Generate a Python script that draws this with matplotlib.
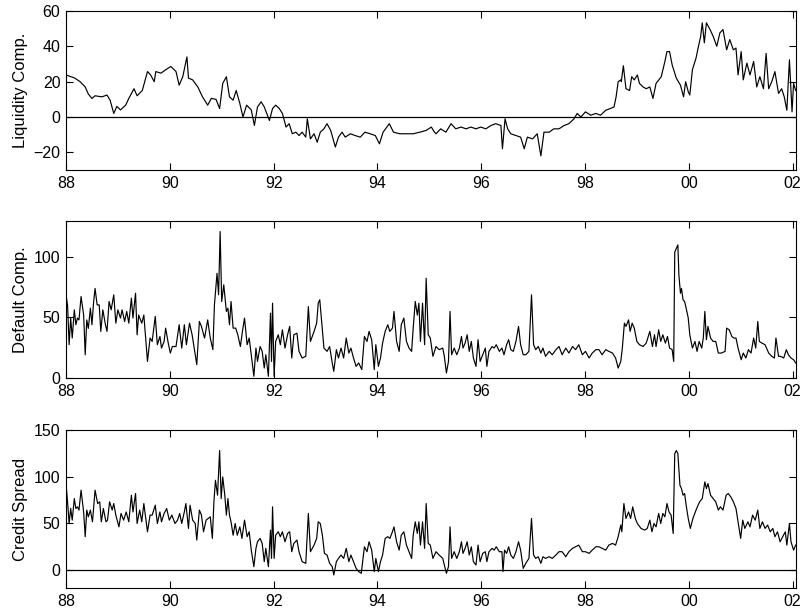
import matplotlib

matplotlib.use("Agg")
import matplotlib.pyplot as plt  # noqa: E402
import numpy as np  # noqa: E402

plt.rcParams["font.family"] = ["Liberation Sans", "DejaVu Sans"]

# (decimal year, value)
liquidity = [
    (88.00, 23.8), (88.17, 22), (88.27, 20), (88.37, 17), (88.43, 13), (88.50, 10.5),
    (88.56, 12), (88.69, 11.4), (88.79, 12.4), (88.85, 9.5), (88.92, 2), (88.98, 6),
    (89.05, 4), (89.15, 6.7), (89.21, 10.5), (89.31, 16), (89.37, 12), (89.47, 15),
    (89.57, 25.7), (89.63, 23.8), (89.70, 20), (89.73, 25.7), (89.83, 24.8), (89.92, 26.7),
    (90.02, 28.6), (90.12, 25.7), (90.18, 18), (90.25, 22.8), (90.33, 34), (90.36, 22),
    (90.44, 21), (90.54, 17), (90.63, 11.4), (90.73, 6.7), (90.80, 10.5), (90.89, 10),
    (90.96, 4.8), (91.02, 19), (91.09, 22.8), (91.15, 11.4), (91.22, 9.5), (91.28, 15),
    (91.35, 7.6), (91.41, 0), (91.48, 6.7), (91.57, 4),
    (91.63, -4.8), (91.69, 5.7), (91.76, 8.6), (91.82, 5.7), (91.92, -2), (91.98, 4.8),
    (92.04, 6.7), (92.11, 4.8), (92.17, 2), (92.24, -5.7), (92.30, -3.8), (92.36, -9.5),
    (92.43, -8.6), (92.49, -10.5), (92.55, -8.6), (92.62, -11.4), (92.65, -1), (92.71, -12.4),
    (92.78, -9.5), (92.84, -14.3), (92.90, -8.6), (92.97, -6.7), (93.03, -3.8), (93.10, -7.6),
    (93.19, -17), (93.25, -11.4), (93.32, -8.6), (93.38, -11.4), (93.48, -9.5), (93.57, -10.5),
    (93.67, -11.4), (93.76, -8.6), (93.86, -9.5), (93.96, -10.5), (94.04, -15.2), (94.11, -8.6),
    (94.23, -3.8), (94.31, -8.6), (94.43, -9.5), (94.56, -9.5), (94.69, -9.5), (94.82, -8.6),
    (94.94, -7.6), (95.04, -5.7), (95.10, -8.6),
    (95.13, -9.5), (95.22, -6.7), (95.32, -8.6), (95.42, -3.8), (95.51, -6.7), (95.61, -5.7),
    (95.71, -6.7), (95.80, -5.7), (95.90, -6.7), (95.99, -5.7), (96.09, -6.7), (96.19, -4.8),
    (96.28, -3.8), (96.38, -4.8), (96.41, -18), (96.46, -1), (96.51, -6.7), (96.57, -9.5),
    (96.67, -10.5), (96.76, -11.4), (96.83, -18), (96.89, -11.4), (96.99, -12.4), (97.08, -9.5),
    (97.15, -22), (97.21, -8.6), (97.31, -8.6), (97.40, -6.7), (97.50, -6.7), (97.60, -4.8),
    (97.69, -3.8), (97.79, -1), (97.85, 2), (97.92, 0), (98.01, 2.9), (98.11, 1),
    (98.21, 2), (98.30, 1), (98.40, 3.8), (98.49, 4.8), (98.56, 5.7), (98.60, 11.4),
    (98.64, 20), (98.69, 21),
    (98.70, 20), (98.74, 29), (98.79, 16), (98.86, 15), (98.90, 22.8), (98.95, 21),
    (99.01, 23.8), (99.05, 19), (99.12, 17), (99.18, 16), (99.25, 17), (99.31, 10.5),
    (99.37, 19), (99.47, 22.8), (99.54, 31.4), (99.58, 37), (99.63, 37), (99.68, 29.5),
    (99.76, 22), (99.84, 18), (99.90, 11.4), (99.94, 20), (99.99, 14.3), (100.02, 12.4),
    (100.07, 26.7), (100.14, 33.3), (100.18, 39), (100.23, 45.7), (100.26, 53.3), (100.30, 42),
    (100.34, 53.3), (100.41, 49.5), (100.47, 45.7), (100.54, 40), (100.60, 47.6), (100.66, 49.5),
    (100.73, 38), (100.79, 43.8), (100.86, 38), (100.91, 39), (100.95, 23.8), (101.01, 37),
    (101.05, 21), (101.12, 30.5), (101.18, 23.8), (101.25, 31.4), (101.31, 17), (101.37, 22.8),
    (101.44, 16), (101.49, 36), (101.54, 16), (101.60, 20), (101.66, 25.7), (101.73, 13.3),
    (101.79, 16), (101.84, 11.4), (101.89, 3.8), (101.94, 32.4), (101.99, 2.9), (102.02, 19),
    (102.06, 15),
]

default = [
    (88.00, 68.7), (88.03, 60), (88.06, 27.5), (88.09, 49.5), (88.12, 33), (88.16, 56.3),
    (88.19, 44), (88.22, 49.5), (88.25, 48), (88.29, 67.3), (88.34, 52), (88.37, 19.2),
    (88.40, 48), (88.43, 41), (88.47, 57.7), (88.50, 44), (88.53, 61.8), (88.56, 74),
    (88.60, 60.4), (88.64, 60.4), (88.67, 38.5), (88.71, 56.3), (88.76, 44), (88.79, 38.5),
    (88.83, 63.2), (88.87, 56.3), (88.92, 68.7), (88.96, 45.3), (89.00, 56.3), (89.05, 49.5),
    (89.08, 56.3), (89.13, 46.7), (89.17, 55), (89.21, 45.3), (89.26, 66), (89.29, 49.5),
    (89.34, 70), (89.37, 35.7), (89.40, 52), (89.46, 45.3), (89.50, 52), (89.53, 35.7),
    (89.57, 13.7), (89.62, 33), (89.66, 30.2), (89.72, 50.8), (89.76, 27.5), (89.81, 34.3),
    (89.84, 24.7), (89.89, 30.2), (89.92, 41.2), (89.97, 28.8), (90.01, 20.6), (90.05, 26),
    (90.12, 26), (90.18, 44), (90.23, 24.7), (90.28, 44), (90.32, 27.5), (90.38, 45.3),
    (90.43, 35.7), (90.47, 24.7), (90.52, 11), (90.57, 46.7), (90.61, 42.6), (90.67, 33),
    (90.73, 48), (90.78, 33), (90.83, 23.4), (90.86, 60.4), (90.91, 86.5), (90.94, 68.7),
    (90.97, 121), (91.00, 63.2), (91.04, 77), (91.09, 55), (91.12, 57.7), (91.15, 44),
    (91.18, 63.2), (91.22, 41.2), (91.27, 41.2), (91.31, 35.7), (91.36, 26), (91.40, 38.5),
    (91.44, 49.5), (91.49, 27.5), (91.53, 33), (91.57, 19.2),
    (91.62, 1.4), (91.66, 24.7), (91.69, 13.7), (91.74, 26), (91.78, 22), (91.82, 8.2),
    (91.85, 19.2), (91.90, 1.4), (91.94, 53.6), (91.96, 13.7), (91.98, 61.8), (92.01, 1.4),
    (92.04, 30.2), (92.09, 35.7), (92.13, 27.5), (92.17, 39.8), (92.22, 24.7), (92.27, 35.7),
    (92.31, 42.6), (92.35, 16.5), (92.39, 35.7), (92.45, 37), (92.49, 22), (92.55, 16.5),
    (92.62, 17.9), (92.67, 59), (92.71, 30.2), (92.78, 38.5), (92.83, 45.3), (92.86, 61.8),
    (92.89, 64.6), (92.92, 49.5), (92.97, 24.7), (93.03, 22), (93.08, 26), (93.13, 12.4),
    (93.16, 5.5), (93.21, 23.4), (93.25, 16.5), (93.30, 24.7), (93.35, 16.5), (93.40, 33),
    (93.45, 20.6), (93.49, 24.7), (93.54, 16.5), (93.59, 9.6), (93.64, 12.4), (93.70, 6.9),
    (93.75, 34.3), (93.80, 30.2), (93.84, 38.5), (93.89, 31.6), (93.94, 6.9), (93.97, 27.5),
    (94.02, 9.6), (94.06, 16.5), (94.10, 28.8), (94.15, 38.5), (94.20, 44), (94.24, 38.5),
    (94.29, 41.2), (94.32, 55), (94.37, 30.2), (94.42, 22), (94.46, 44), (94.51, 49.5),
    (94.56, 30.2), (94.61, 24.7), (94.66, 22), (94.69, 41.2), (94.73, 63.2), (94.77, 52),
    (94.80, 61.8), (94.83, 30.2), (94.87, 61.8), (94.91, 27.5), (94.94, 82.4), (94.98, 35.7),
    (95.02, 33), (95.07, 17.9),
    (95.13, 26), (95.19, 23.4), (95.26, 24.7), (95.29, 17.9), (95.33, 4.1), (95.37, 13.7),
    (95.40, 55), (95.43, 19.2), (95.48, 24.7), (95.53, 19.2), (95.58, 24.7), (95.62, 34.3),
    (95.65, 24.7), (95.69, 28.8), (95.73, 35.7), (95.77, 22), (95.81, 30.2), (95.85, 16.5),
    (95.90, 9.6), (95.94, 31.6), (95.98, 13.7), (96.03, 19.2), (96.08, 24.7), (96.11, 9.6),
    (96.15, 22), (96.21, 26), (96.25, 24.7), (96.29, 27.5), (96.35, 22), (96.40, 24.7),
    (96.44, 19.2), (96.49, 27.5), (96.53, 31.6), (96.57, 23.4), (96.62, 22), (96.67, 30.2),
    (96.72, 42.6), (96.76, 27.5), (96.81, 19.2), (96.86, 19.2), (96.92, 22), (96.97, 68.7),
    (97.01, 27.5), (97.05, 23.4), (97.10, 26), (97.15, 20.6), (97.19, 24.7), (97.24, 17.9),
    (97.31, 22), (97.37, 19.2), (97.44, 23.4), (97.50, 26), (97.56, 19.2), (97.63, 24.7),
    (97.69, 20.6), (97.76, 26), (97.82, 23.4), (97.88, 27.5), (97.95, 19.2), (98.01, 22),
    (98.08, 16.5), (98.14, 20.6), (98.21, 23.4), (98.27, 23.4), (98.33, 19.2), (98.40, 23.4),
    (98.46, 22), (98.53, 20.6), (98.59, 16.5), (98.64, 8.2), (98.69, 13.7),
    (98.72, 24.7), (98.76, 45.3), (98.79, 42.6), (98.84, 48), (98.87, 38.5), (98.91, 45.3),
    (98.95, 41.2), (99.00, 30.2), (99.05, 27.5), (99.12, 26), (99.18, 28.8), (99.25, 38.5),
    (99.30, 26), (99.34, 35.7), (99.37, 26), (99.42, 39.8), (99.46, 30.2), (99.50, 35.7),
    (99.55, 28.8), (99.59, 34.3), (99.63, 24.7), (99.68, 23.4), (99.71, 13.7), (99.73, 104),
    (99.76, 107), (99.79, 110), (99.81, 85), (99.84, 70), (99.86, 74), (99.89, 64.6),
    (99.92, 63.2), (99.95, 57.7), (99.99, 49.5), (100.02, 35.7), (100.07, 24.7), (100.12, 30.2),
    (100.16, 22), (100.20, 30.2), (100.25, 24.7), (100.28, 33), (100.31, 55), (100.34, 31.6),
    (100.37, 42.6), (100.42, 33), (100.47, 30.2), (100.52, 30.2), (100.57, 20.6), (100.63, 20.6),
    (100.70, 22), (100.73, 41.2), (100.78, 39.8), (100.83, 34.3), (100.87, 33), (100.91, 33),
    (100.95, 24.7), (101.01, 15.1), (101.05, 20.6), (101.10, 16.5), (101.15, 23.4), (101.20, 20.6),
    (101.25, 33), (101.29, 24.7), (101.33, 46.7), (101.36, 30.2), (101.41, 28.8), (101.47, 27.5),
    (101.54, 20.6), (101.60, 17.9), (101.65, 16.5), (101.68, 33), (101.73, 17.9), (101.77, 17.9),
    (101.83, 16.5), (101.88, 23.4), (101.92, 19.2), (101.97, 16.5), (102.02, 15.1), (102.06, 12.4),
]

spread = [
    (88.00, 92.5), (88.03, 72.9), (88.06, 49.6), (88.09, 65.7), (88.12, 53.2), (88.16, 76.4),
    (88.19, 65.7), (88.22, 67.5), (88.25, 64), (88.29, 85.4), (88.34, 62), (88.37, 35.4),
    (88.40, 64), (88.43, 56.8), (88.47, 64), (88.51, 51.4), (88.54, 71), (88.56, 85.4),
    (88.61, 71), (88.65, 72.9), (88.68, 51.4), (88.72, 65.7), (88.77, 51.4), (88.80, 53.2),
    (88.84, 72.9), (88.89, 64), (88.92, 71), (88.96, 58.6), (89.02, 46), (89.06, 60.4),
    (89.11, 53.2), (89.16, 62), (89.21, 51.4), (89.26, 80), (89.29, 62), (89.34, 81.8),
    (89.37, 49.6), (89.42, 64), (89.46, 51.4), (89.50, 71), (89.55, 49.6), (89.57, 40.7),
    (89.62, 58.6), (89.66, 58.6), (89.72, 69.3), (89.76, 49.6), (89.81, 62), (89.84, 51.4),
    (89.89, 60.4), (89.94, 65.7), (89.99, 53.2), (90.04, 58.6), (90.10, 49.6), (90.15, 53.2),
    (90.19, 60.4), (90.23, 49.6), (90.28, 62), (90.31, 71), (90.36, 44.3), (90.39, 69.3),
    (90.44, 53.2), (90.49, 49.6), (90.52, 31.8), (90.57, 64), (90.61, 58.6), (90.65, 40.7),
    (90.70, 53.2), (90.74, 55), (90.78, 56.8), (90.82, 33.6), (90.85, 72.9), (90.88, 96),
    (90.92, 80), (90.96, 128), (90.99, 76.4), (91.02, 99.6), (91.06, 80), (91.09, 58.6),
    (91.12, 76.4), (91.15, 58.6), (91.18, 51.4), (91.22, 37), (91.26, 49.6), (91.30, 37),
    (91.35, 46), (91.39, 33.6), (91.44, 53.2), (91.49, 35.4), (91.53, 40.7), (91.57, 21),
    (91.62, 3.2), (91.66, 22.9), (91.69, 30), (91.74, 33.6), (91.78, 28.2), (91.82, 8.6),
    (91.85, 22.9), (91.90, 3.2), (91.94, 42.5), (91.96, 12.1), (91.98, 67.5), (92.01, 12.1),
    (92.04, 37), (92.09, 40.7), (92.13, 35.4), (92.17, 40.7), (92.22, 30), (92.27, 38.9),
    (92.31, 40.7), (92.35, 19.3), (92.39, 28.2), (92.45, 31.8), (92.49, 19.3), (92.55, 8.6),
    (92.62, 6.8), (92.67, 60.4), (92.71, 19.3), (92.78, 26.4), (92.83, 33.6), (92.86, 51.4),
    (92.90, 49.6), (92.94, 37), (92.98, 17.5), (93.03, 15.7), (93.08, 6.8), (93.13, 3.2),
    (93.16, -5.7), (93.21, 8.6), (93.25, 12.1), (93.30, 15.7), (93.35, 12.1), (93.40, 22.9),
    (93.45, 8.6), (93.49, 15.7), (93.54, 8.6), (93.59, 1.4), (93.64, -2.1), (93.69, -3.9),
    (93.75, 24.6), (93.80, 19.3), (93.84, 30), (93.89, 21), (93.94, -2.1), (93.97, 12.1),
    (94.02, -2.1), (94.06, 8.6), (94.10, 15.7), (94.15, 33.6), (94.20, 35.4), (94.24, 33.6),
    (94.29, 40.7), (94.32, 46), (94.37, 30), (94.42, 21), (94.46, 37), (94.51, 40.7),
    (94.56, 26.4), (94.61, 19.3), (94.66, 12.1), (94.69, 37), (94.73, 51.4), (94.77, 38.9),
    (94.80, 51.4), (94.83, 26.4), (94.87, 51.4), (94.91, 22.9), (94.94, 71), (94.98, 28.2),
    (95.02, 26.4), (95.07, 12.1),
    (95.13, 19.3), (95.19, 15.7), (95.26, 12.1), (95.29, 5), (95.33, -3.9), (95.37, 3.2),
    (95.40, 46), (95.43, 12.1), (95.48, 19.3), (95.53, 12.1), (95.58, 19.3), (95.62, 30),
    (95.65, 17.5), (95.69, 22.9), (95.73, 30), (95.77, 15.7), (95.81, 24.6), (95.85, 8.6),
    (95.90, 5), (95.94, 26.4), (95.98, 8.6), (96.03, 17.5), (96.08, 19.3), (96.11, 8.6),
    (96.15, 19.3), (96.21, 22.9), (96.25, 21), (96.29, 24.6), (96.35, 19.3), (96.40, 19.3),
    (96.42, -2.1), (96.45, 21), (96.49, 17.5), (96.53, 24.6), (96.57, 15.7), (96.62, 12.1),
    (96.67, 19.3), (96.72, 30), (96.76, 21), (96.81, 1.4), (96.86, 6.8), (96.92, 12.1),
    (96.97, 55), (97.01, 15.7), (97.05, 12.1), (97.10, 13.9), (97.15, 6.8), (97.19, 13.9),
    (97.24, 12.1), (97.31, 13.9), (97.37, 12.1), (97.44, 15.7), (97.50, 19.3), (97.56, 19.3),
    (97.63, 13.9), (97.69, 19.3), (97.76, 22.9), (97.82, 24.6), (97.88, 26.4), (97.95, 19.3),
    (98.01, 19.3), (98.08, 17.5), (98.14, 21), (98.21, 24.6), (98.27, 24.6), (98.33, 22.9),
    (98.40, 21), (98.46, 26.4), (98.53, 28.2), (98.59, 26.4), (98.64, 35.4), (98.69, 48),
    (98.71, 40.7), (98.75, 71), (98.79, 55), (98.84, 62), (98.88, 55), (98.92, 67.5),
    (98.97, 55), (99.01, 49.6), (99.08, 44.3), (99.15, 42.5), (99.20, 44.3), (99.25, 53.2),
    (99.29, 40.7), (99.33, 49.6), (99.37, 46), (99.42, 60.4), (99.46, 49.6), (99.50, 60.4),
    (99.54, 56.8), (99.58, 71), (99.62, 62), (99.66, 58.6), (99.70, 38.9), (99.73, 124.6),
    (99.76, 128), (99.79, 124.6), (99.83, 90.7), (99.86, 87.1), (99.89, 80), (99.92, 81.8),
    (99.95, 69.3), (99.99, 55), (100.03, 44.3), (100.08, 55), (100.14, 64), (100.18, 69.3),
    (100.21, 72.9), (100.26, 76.4), (100.31, 94.3), (100.34, 87.1), (100.37, 92.5), (100.42, 80),
    (100.47, 76.4), (100.52, 72.9), (100.57, 64), (100.61, 67.5), (100.66, 64), (100.72, 80),
    (100.76, 81.8), (100.81, 78.2), (100.86, 72.9), (100.91, 65.7), (100.95, 51.4), (101.00, 33.6),
    (101.04, 53.2), (101.08, 44.3), (101.14, 51.4), (101.18, 46), (101.23, 58.6), (101.28, 53.2),
    (101.33, 64), (101.37, 44.3), (101.42, 51.4), (101.47, 44.3), (101.52, 47.9), (101.57, 40.7),
    (101.62, 44.3), (101.66, 35.4), (101.71, 40.7), (101.76, 30), (101.81, 35.4), (101.86, 40.7),
    (101.89, 26.4), (101.94, 49.6), (101.97, 30), (102.02, 21), (102.06, 26.4),
]

year_ticks = [88, 90, 92, 94, 96, 98, 100, 102]
year_labels = ["88", "90", "92", "94", "96", "98", "00", "02"]

panels = [
    ("Liquidity Comp.", liquidity, (-30, 60), [-20, 0, 20, 40, 60], True),
    ("Default Comp.", default, (0, 130), [0, 50, 100], False),
    ("Credit Spread", spread, (-20, 150), [0, 50, 100, 150], True),
]
# axes boxes in figure fractions (left, bottom, width, height)
boxes = [
    (0.0823, 0.7227, 0.9098, 0.2594),
    (0.0823, 0.3834, 0.9098, 0.2566),
    (0.0823, 0.0403, 0.9098, 0.2582),
]

fig = plt.figure(figsize=(8.02, 6.13), dpi=100)
for (label, series, ylim, yticks, zero_line), box in zip(panels, boxes):
    ax = fig.add_axes(box)
    t, v = np.array(series).T
    ax.plot(t, v, color="black", lw=0.85)
    if zero_line:
        ax.axhline(0, color="black", lw=0.9)
    ax.set_xlim(88, 102.06)
    ax.set_ylim(*ylim)
    ax.set_xticks(year_ticks)
    ax.set_xticklabels(year_labels)
    ax.set_yticks(yticks)
    ax.tick_params(direction="in", top=True, right=True, length=5, width=0.8,
                   labelsize=11.5, pad=4)
    for s in ax.spines.values():
        s.set_linewidth(0.8)
    ax.set_ylabel(label, fontsize=12)
    ax.yaxis.set_label_coords(-0.052, 0.5)

fig.savefig("out.png", dpi=100)
